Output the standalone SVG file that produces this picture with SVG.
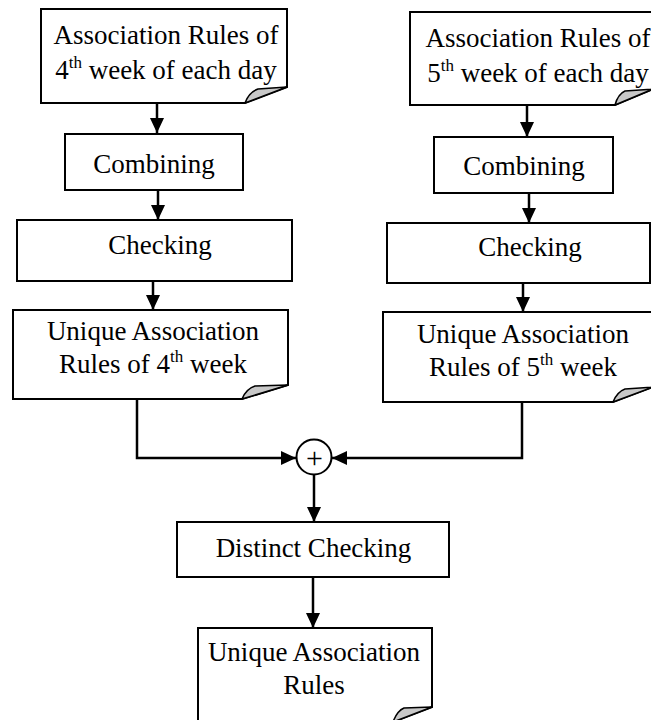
<svg xmlns="http://www.w3.org/2000/svg" width="651" height="720" viewBox="0 0 651 720">
<style>
.box{fill:#fff;stroke:#000;stroke-width:2}
.curl{fill:#c8c8c8;stroke:#000;stroke-width:1.5;stroke-linejoin:round}
.t{font-family:"Liberation Serif","Times New Roman",serif;font-size:27px;fill:#000;text-anchor:middle}
.sup{font-size:17px}
.c{fill:none;stroke:#000;stroke-width:2.5}
</style>
<defs>
<marker id="ah" markerUnits="userSpaceOnUse" markerWidth="15" markerHeight="14" refX="15" refY="7" orient="auto">
<path d="M0,0 L15,7 L0,14 Z" fill="#000"/>
</marker>
</defs>
<rect width="651" height="720" fill="#fff"/>
<g id="connectors">
<path class="c" d="M157,103 V133" marker-end="url(#ah)"/>
<path class="c" d="M158,190 V220" marker-end="url(#ah)"/>
<path class="c" d="M153,281 V310" marker-end="url(#ah)"/>
<path class="c" d="M527,105 V137" marker-end="url(#ah)"/>
<path class="c" d="M529,193 V223" marker-end="url(#ah)"/>
<path class="c" d="M523,283 V312" marker-end="url(#ah)"/>
<path class="c" d="M137,399 V458 H296" marker-end="url(#ah)"/>
<path class="c" d="M522,402 V458 H332" marker-end="url(#ah)"/>
<path class="c" d="M314,475 V522" marker-end="url(#ah)"/>
<path class="c" d="M313,577 V628" marker-end="url(#ah)"/>
</g>
<g id="doc4">
<path class="box" d="M41,9 H287 V87 L245,103 H41 Z"/>
<path class="curl" d="M245,103 Q249,92 258,89 L287,87 Z"/>
<text class="t" x="166" y="44">Association Rules of</text>
<text class="t" x="166" y="79">4<tspan class="sup" dy="-11">th</tspan><tspan dy="11"> week of each day</tspan></text>
</g>
<g id="doc5">
<path class="box" d="M410,12 H653 V89 L615,105 H410 Z"/>
<path class="curl" d="M615,105 Q618,94 625,91 L653,89 Z"/>
<text class="t" x="538" y="47">Association Rules of</text>
<text class="t" x="538" y="82">5<tspan class="sup" dy="-11">th</tspan><tspan dy="11"> week of each day</tspan></text>
</g>
<g id="combine4">
<rect class="box" x="65" y="134" width="178" height="56"/>
<text class="t" x="154" y="173">Combining</text>
</g>
<g id="combine5">
<rect class="box" x="434" y="137" width="179" height="56"/>
<text class="t" x="524" y="175">Combining</text>
</g>
<g id="check4">
<rect class="box" x="17" y="220" width="275" height="61"/>
<text class="t" x="160" y="254">Checking</text>
</g>
<g id="check5">
<rect class="box" x="387" y="223" width="263" height="60"/>
<text class="t" x="530" y="256">Checking</text>
</g>
<g id="unique4">
<path class="box" d="M13,310 H288 V385 L242,399 H13 Z"/>
<path class="curl" d="M242,399 Q246,389 255,386 L288,385 Z"/>
<text class="t" x="153" y="340">Unique Association</text>
<text class="t" x="153" y="373">Rules of 4<tspan class="sup" dy="-11">th</tspan><tspan dy="11"> week</tspan></text>
</g>
<g id="unique5">
<path class="box" d="M383,312 H653 V387 L613,402 H383 Z"/>
<path class="curl" d="M613,402 Q617,392 625,389 L653,387 Z"/>
<text class="t" x="523" y="343">Unique Association</text>
<text class="t" x="523" y="376">Rules of 5<tspan class="sup" dy="-11">th</tspan><tspan dy="11"> week</tspan></text>
</g>
<g id="sum">
<circle cx="314" cy="457" r="17.5" fill="#fff" stroke="#000" stroke-width="2"/>
<text class="t" x="314.5" y="468" style="font-size:30px">+</text>
</g>
<g id="distinct">
<rect class="box" x="177" y="522" width="272" height="55"/>
<text class="t" x="313.5" y="557">Distinct Checking</text>
</g>
<g id="final">
<path class="box" d="M198,628 H432 V707 L393,722 H198 Z"/>
<path class="curl" d="M393,722 Q397,711 404,708 L432,707 Z"/>
<text class="t" x="314" y="661">Unique Association</text>
<text class="t" x="314" y="694">Rules</text>
</g>
</svg>
